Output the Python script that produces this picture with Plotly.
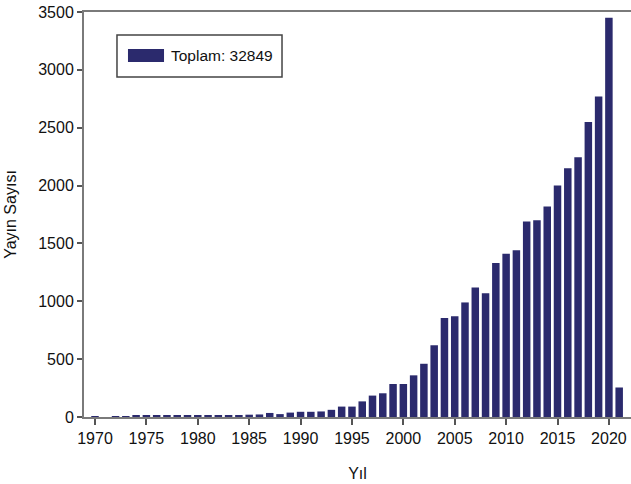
import plotly.graph_objects as go

years = list(range(1970, 2022))
counts = [
    5, 0, 8, 8, 10, 12, 10, 10, 10, 12,          # 1970-1979
    10, 15, 15, 15, 15, 20, 22, 35, 25, 38,       # 1980-1989
    45, 45, 48, 62, 90, 90, 135, 185, 205, 285,   # 1990-1999
    285, 360, 460, 620, 855, 870, 990, 1120, 1070, 1330,  # 2000-2009
    1410, 1440, 1690, 1700, 1820, 2000, 2150, 2245, 2550, 2770,  # 2010-2019
    3450, 255,                                     # 2020-2021
]
total_label = "Toplam: 32849"
x_ticks = list(range(1970, 2021, 5))
y_ticks = list(range(0, 3501, 500))

BAR = "#2b2a6d"
FONT = "Liberation Sans, Arial, sans-serif"

fig = go.Figure()
fig.add_trace(go.Bar(
    x=years, y=counts, marker=dict(color=BAR, line=dict(width=0)),
    showlegend=False,
))

fig.update_layout(
    width=631, height=484,
    margin=dict(l=84, r=0, t=12, b=67, autoexpand=False),
    paper_bgcolor="white", plot_bgcolor="white",
    bargap=0.27,
    font=dict(family=FONT, size=16, color="#111"),
    xaxis=dict(
        range=[1968.93, 2022.15], tickmode="array", tickvals=x_ticks,
        ticks="outside", ticklen=6, tickwidth=1.5, tickcolor="#555",
        showline=True, linecolor="#7a7a7a", linewidth=2, mirror=True,
        showgrid=False, zeroline=False, automargin=False,
        title=dict(text="Yıl", standoff=22, font=dict(size=16)),
    ),
    yaxis=dict(
        range=[0, 3500], tickmode="array", tickvals=y_ticks,
        ticks="outside", ticklen=5, tickwidth=1.5, tickcolor="#555",
        showline=True, linecolor="#7a7a7a", linewidth=2,
        showgrid=False, zeroline=False, automargin=False,
        title=dict(text="Yayın Sayısı", standoff=18, font=dict(size=16)),
    ),
)

# legend box drawn manually
fig.add_shape(type="rect", xref="paper", yref="paper",
              x0=0.0603, x1=0.362, y0=0.8395, y1=0.943,
              line=dict(color="#444", width=1.5), fillcolor="white")
fig.add_shape(type="rect", xref="paper", yref="paper",
              x0=0.0804, x1=0.1463, y0=0.8765, y1=0.9086,
              line=dict(width=0), fillcolor=BAR)
fig.add_annotation(xref="paper", yref="paper", x=0.155, y=0.892,
                   xanchor="left", yanchor="middle", showarrow=False,
                   text=total_label, font=dict(size=15.5, color="#111"))

fig.write_html("out.html",
               config={"displayModeBar": False},
               post_script="document.body.style.margin='0px';")
